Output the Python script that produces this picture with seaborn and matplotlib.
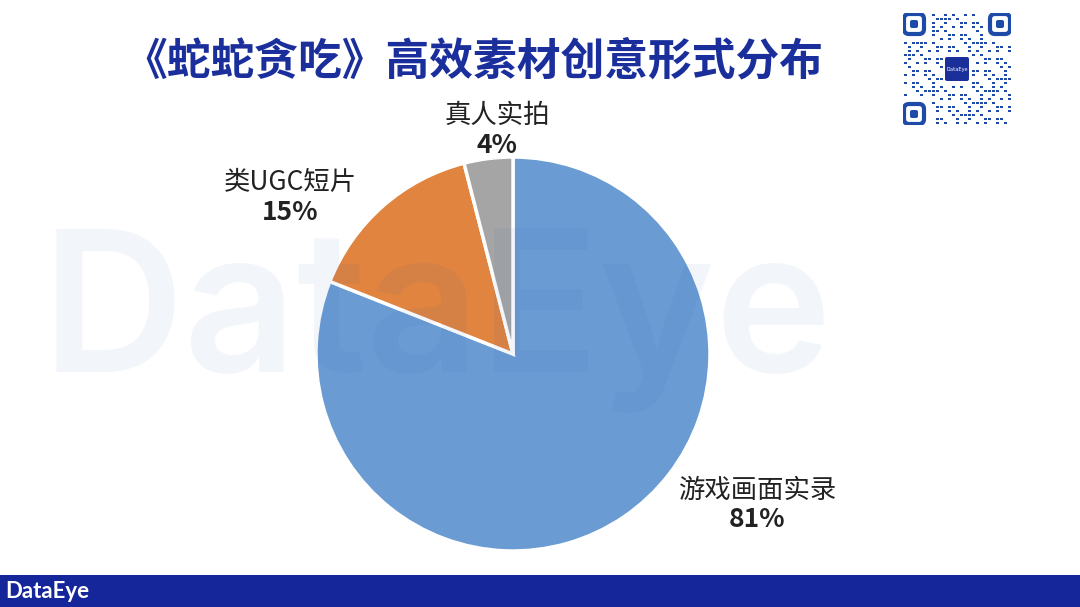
import matplotlib
matplotlib.use("Agg")
import matplotlib.pyplot as plt
import seaborn as sns
from matplotlib.patches import Rectangle, FancyBboxPatch

# data
categories = ['游戏画面实录', '类UGC短片', '真人实拍']
shares = [81, 15, 4]
colors = ['#6B9BD3', '#E0843F', '#A5A5A5']
# label anchor (x, y) in pie data units, radius = 1
label_pos = [(1.24, -0.76), (-1.13, 0.80), (-0.08, 1.14)]

sns.set_theme(style='white')
plt.rcParams['font.family'] = ['Noto Sans CJK SC', 'DejaVu Sans']

fig = plt.figure(figsize=(10.8, 6.07), dpi=100)
fig.patch.set_facecolor('white')

# title
fig.text(0.438, 0.897, '《蛇蛇贪吃》高效素材创意形式分布', fontsize=31.5, fontweight='bold',
         color='#1B2F9C', ha='center', va='center')

# pie
ax = fig.add_axes([(513 - 197) / 1080, (253 - 197) / 607, 394 / 1080, 394 / 607])
ax.pie(shares, colors=colors, startangle=90, counterclock=False, radius=1,
       wedgeprops=dict(edgecolor='white', linewidth=2.5))
ax.set_xlim(-1, 1)
ax.set_ylim(-1, 1)
ax.set_aspect('equal')
ax.axis('off')

for name, val, (x, y) in zip(categories, shares, label_pos):
    ax.text(x, y + 0.07, name, fontsize=19, color='#222222', ha='center', va='center')
    ax.text(x, y - 0.08, f'{val}%', fontsize=19, fontweight='bold', color='#222222',
            ha='center', va='center')

# faint watermark on top
fig.text(0.038, 0.472, 'DataEye', fontsize=142, color='#2A5DB0', alpha=0.06,
         fontweight='semibold', family=['Inter', 'DejaVu Sans'], ha='left', va='center',
         zorder=10)

# bottom bar
fig.add_artist(Rectangle((0, 0), 1, 32 / 607, transform=fig.transFigure,
                         facecolor='#15269B', edgecolor='none'))
fig.text(0.005, 16 / 607, 'DataEye', fontsize=16, color='white', fontweight='bold',
         family=['Lato', 'DejaVu Sans'], ha='left', va='center')

# QR code placeholder (finder patterns, fixed module pattern, logo)
qr_ax = fig.add_axes([903 / 1080, 1 - 125 / 607, 108 / 1080, 112 / 607])
qr_ax.set_xlim(0, 108)
qr_ax.set_ylim(0, 112)
qr_ax.axis('off')
cell = 108 / 27
for i in range(27):
    for j in range(28):
        in_finder = (i < 7 and j > 20) or (i > 19 and j > 20) or (i < 7 and j < 7)
        in_logo = 10 <= i <= 16 and 10 <= j <= 17
        if in_finder or in_logo:
            continue
        if (i * 7 + j * 13 + (i * j) % 3) % 5 < 2:
            qr_ax.add_patch(Rectangle((i * cell + 0.6, j * cell + 0.8), cell * 0.85, cell * 0.5,
                                      facecolor='#1E4AA8', edgecolor='none'))
for (fx, fy) in [(0, 90), (86, 90), (0, 0)]:
    qr_ax.add_patch(FancyBboxPatch((fx + 1, fy + 1), 20, 20, boxstyle='round,pad=0,rounding_size=5',
                                   facecolor='white', edgecolor='#1E4AA8', linewidth=3))
    qr_ax.add_patch(FancyBboxPatch((fx + 7, fy + 7), 8, 8, boxstyle='round,pad=0,rounding_size=2',
                                   facecolor='#1E4AA8', edgecolor='none'))
qr_ax.add_patch(FancyBboxPatch((42, 44), 24, 24, boxstyle='round,pad=0,rounding_size=2',
                               facecolor='#1A2F9A', edgecolor='none'))
qr_ax.text(54, 56, 'DataEye', fontsize=4, color='white', ha='center', va='center')

fig.savefig('out.png', dpi=100)
